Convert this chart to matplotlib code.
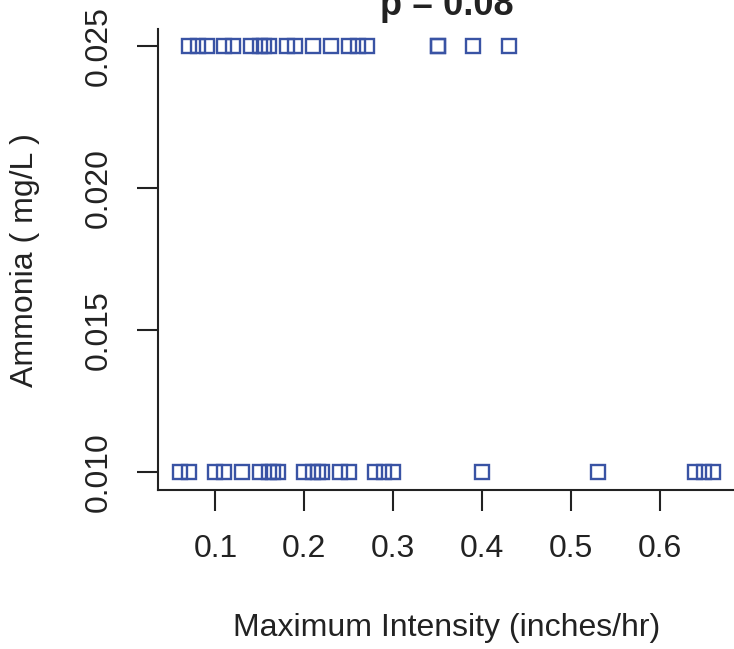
import matplotlib
matplotlib.use("Agg")
import matplotlib.pyplot as plt

# Max intensity (inches/hr) for samples at the high ammonia value
x_high = [0.07, 0.08, 0.09, 0.11, 0.12, 0.14, 0.15, 0.155, 0.16, 0.18, 0.19,
          0.21, 0.23, 0.25, 0.26, 0.27, 0.35, 0.35, 0.39, 0.43]
# ... and at the low (detection limit) value
x_low = [0.06, 0.07, 0.10, 0.11, 0.13, 0.15, 0.16, 0.165, 0.17, 0.20, 0.21,
         0.215, 0.22, 0.24, 0.25, 0.28, 0.29, 0.30, 0.40, 0.53,
         0.64, 0.65, 0.66]
y_high_val = 0.025
y_low_val = 0.010

x_ticks = [0.1, 0.2, 0.3, 0.4, 0.5, 0.6]
y_ticks = [0.010, 0.015, 0.020, 0.025]
title = "p = 0.08"
x_label = "Maximum Intensity (inches/hr)"
y_label = "Ammonia ( mg/L )"

plt.rcParams['font.family'] = ['Liberation Sans', 'DejaVu Sans']
plt.rcParams['font.size'] = 23

W, H = 734, 649
fig = plt.figure(figsize=(W / 100, H / 100), dpi=100)
# axes box in pixels (left, right, top, bottom from top)
L, R, T, B = 158, 734, 29, 490
ax = fig.add_axes([L / W, 1 - B / H, (R - L) / W, (B - T) / H])

blue = '#3953a4'
ax.plot(x_high, [y_high_val] * len(x_high), 's', ms=9.5, mfc='none', mec=blue, mew=1.7,
        clip_on=False)
ax.plot(x_low, [y_low_val] * len(x_low), 's', ms=9.5, mfc='none', mec=blue, mew=1.7,
        clip_on=False)

ax.set_xlim(0.0354, 0.6834)
ax.set_ylim(0.009366, 0.0256)
ax.set_xticks(x_ticks)
ax.set_xticklabels([f"{v:.1f}" for v in x_ticks])
ax.set_yticks(y_ticks)
ax.set_yticklabels([f"{v:.3f}" for v in y_ticks], rotation=90, va='center')

for s in ['top', 'right']:
    ax.spines[s].set_visible(False)
for s in ['left', 'bottom']:
    ax.spines[s].set_linewidth(1.5)
    ax.spines[s].set_color('#222222')
ax.tick_params(direction='out', length=15, width=1.5, color='#222222',
               labelsize=23, labelcolor='#222222')
ax.tick_params(axis='x', pad=17)
ax.tick_params(axis='y', pad=17)

fig.text(447 / W, 1 - 15 / H, title, ha='center', va='baseline',
         fontsize=26, fontweight='bold', color='#222222')
fig.text(447 / W, 1 - 628 / H, x_label, ha='center', va='center', color='#222222')
fig.text(25 / W, 1 - 260 / H, y_label, ha='center', va='center', rotation=90,
         color='#222222')

fig.savefig("out.png", dpi=100)
